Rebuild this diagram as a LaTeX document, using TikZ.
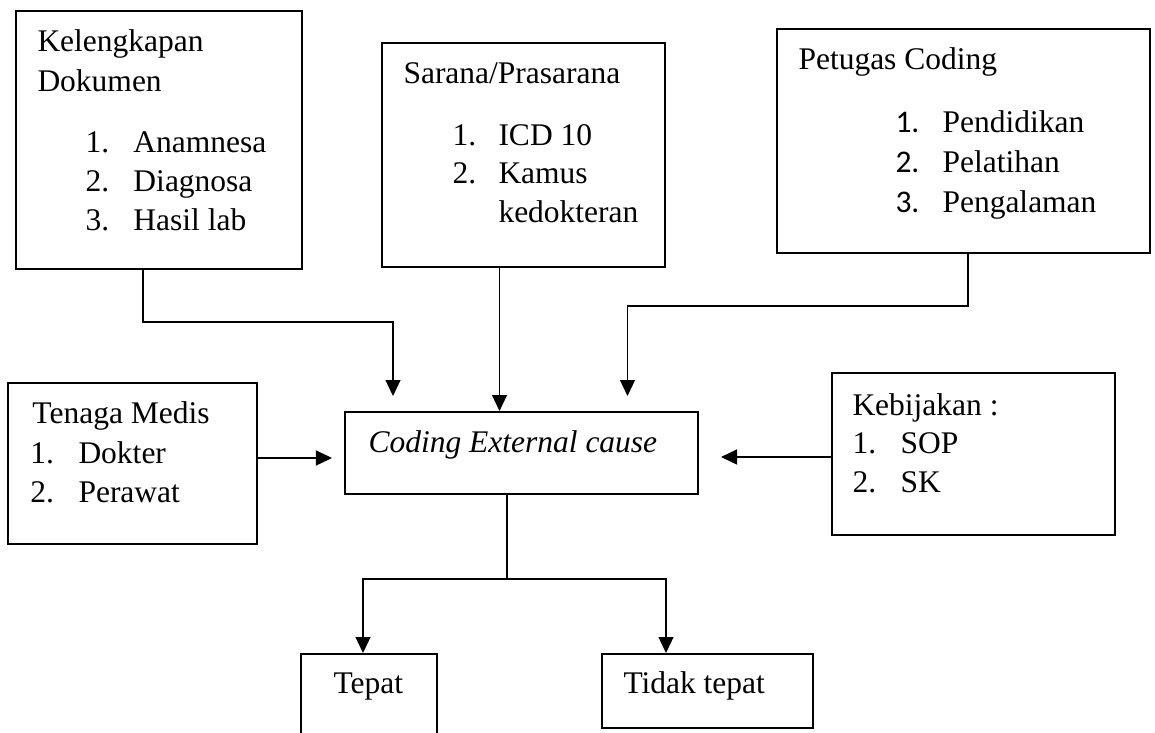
\documentclass[tikz,border=0pt]{standalone}
\usepackage{fontspec}
\setmainfont{Liberation Serif}
\newfontfamily\numfont{Carlito}
\usetikzlibrary{arrows.meta,calc}

\tikzset{
  box/.style 2 args={draw,line width=0.8pt,inner sep=0pt,minimum width=#1,minimum height=#2},
  txt/.style={anchor=base west,inner sep=0pt,font=\fontsize{12.6}{16}\selectfont},
  arr/.style={line width=0.5pt,-{Triangle[length=6.4pt,width=6pt]}},
  link/.style={line width=0.5pt}
}

\begin{document}
\begin{tikzpicture}[x=0.4pt,y=-0.4pt]
  \useasboundingbox (0,0) rectangle (1155,733);
  \clip (0,0) rectangle (1155,733);

  % boxes
  \node[box={114.4pt}{103.2pt}] (kel) at (159,140) {};
  \node[box={113.2pt}{89.6pt}]  (sar) at (523.5,155) {};
  \node[box={149.2pt}{89.6pt}]  (pet) at (963.5,141) {};
  \node[box={99.6pt}{64.4pt}]   (ten) at (132.5,463.5) {};
  \node[box={141.2pt}{32.8pt}]  (cod) at (521.5,453) {};
  \node[box={113.2pt}{64.8pt}]  (keb) at (973.5,454) {};
  \node[box={54.4pt}{48pt}]     (tep) at (369,714) {};
  \node[box={84.4pt}{29.6pt}]   (tid) at (707.5,691) {};

  % Kelengkapan Dokumen
  \node[txt] (kel-t1) at (37,52) {Kelengkapan};
  \node[txt] (kel-t2) at (37,91) {Dokumen};
  \foreach \t [count=\i] in {Anamnesa,Diagnosa,Hasil lab}{
    \node[txt] (kel-n\i) at (85,{113+39*\i}) {\i.};
    \node[txt] (kel-i\i) at (133,{113+39*\i}) {\t};
  }

  % Sarana/Prasarana
  \node[txt] (sar-t) at (403,83) {Sarana/Prasarana};
  \foreach \t [count=\i] in {ICD 10,Kamus}{
    \node[txt] (sar-n\i) at (452,{107+38*\i}) {\i.};
    \node[txt] (sar-i\i) at (498,{107+38*\i}) {\t};
  }
  \node[txt] (sar-i3) at (498,222) {kedokteran};

  % Petugas Coding
  \node[txt] (pet-t) at (798,70) {Petugas Coding};
  \foreach \t [count=\i] in {Pendidikan,Pelatihan,Pengalaman}{
    \node[txt,font=\fontsize{12.6}{16}\numfont] (pet-n\i) at (895,{92+40*\i}) {\i.};
    \node[txt] (pet-i\i) at (942,{92+40*\i}) {\t};
  }

  % Tenaga Medis
  \node[txt] (ten-t) at (32,423) {Tenaga Medis};
  \foreach \t [count=\i] in {Dokter,Perawat}{
    \node[txt] (ten-n\i) at (30,{424+39*\i}) {\i.};
    \node[txt] (ten-i\i) at (78,{424+39*\i}) {\t};
  }

  % Kebijakan
  \node[txt] (keb-t) at (852,415) {Kebijakan :};
  \foreach \t [count=\i] in {SOP,SK}{
    \node[txt] (keb-n\i) at (852,{414+39*\i}) {\i.};
    \node[txt] (keb-i\i) at (900,{414+39*\i}) {\t};
  }

  \node[txt] (cod-t) at (368,452) {\itshape Coding External cause};
  \node[txt] (tep-t) at (333,693) {Tepat};
  \node[txt] (tid-t) at (623,693) {Tidak tepat};

  % connectors into the centre box
  \draw[arr,shorten >=6pt] ($(kel.south)+(-16,0)$) |- ($(cod.north)+(-128.5,-89)$)
    -- ($(cod.north)+(-128.5,0)$);
  \draw[arr] ($(sar.south)+(-24,0)$) -- ($(cod.north)+(-22,0)$);
  \draw[arr,shorten >=6pt] ($(pet.south)+(4.5,0)$) |- ($(cod.north)+(106,-105)$)
    -- ($(cod.north)+(106,0)$);
  \draw[arr,shorten >=4.8pt] ($(ten.east)+(0,-5.5)$) -- ($(cod.west)+(0,5)$);
  \draw[arr,shorten >=8.8pt] ($(keb.west)+(0,3)$) -- ($(cod.east)+(0,4)$);

  % outcome
  \coordinate (split) at ($(cod.south)+(-14.5,84)$);
  \draw[link] ($(cod.south)+(-14.5,0)$) -- (split);
  \draw[arr] (split) -| ($(tep.north)+(-6,0)$);
  \draw[arr] (split) -| ($(tid.north)+(-41.5,0)$);
\end{tikzpicture}
\end{document}
